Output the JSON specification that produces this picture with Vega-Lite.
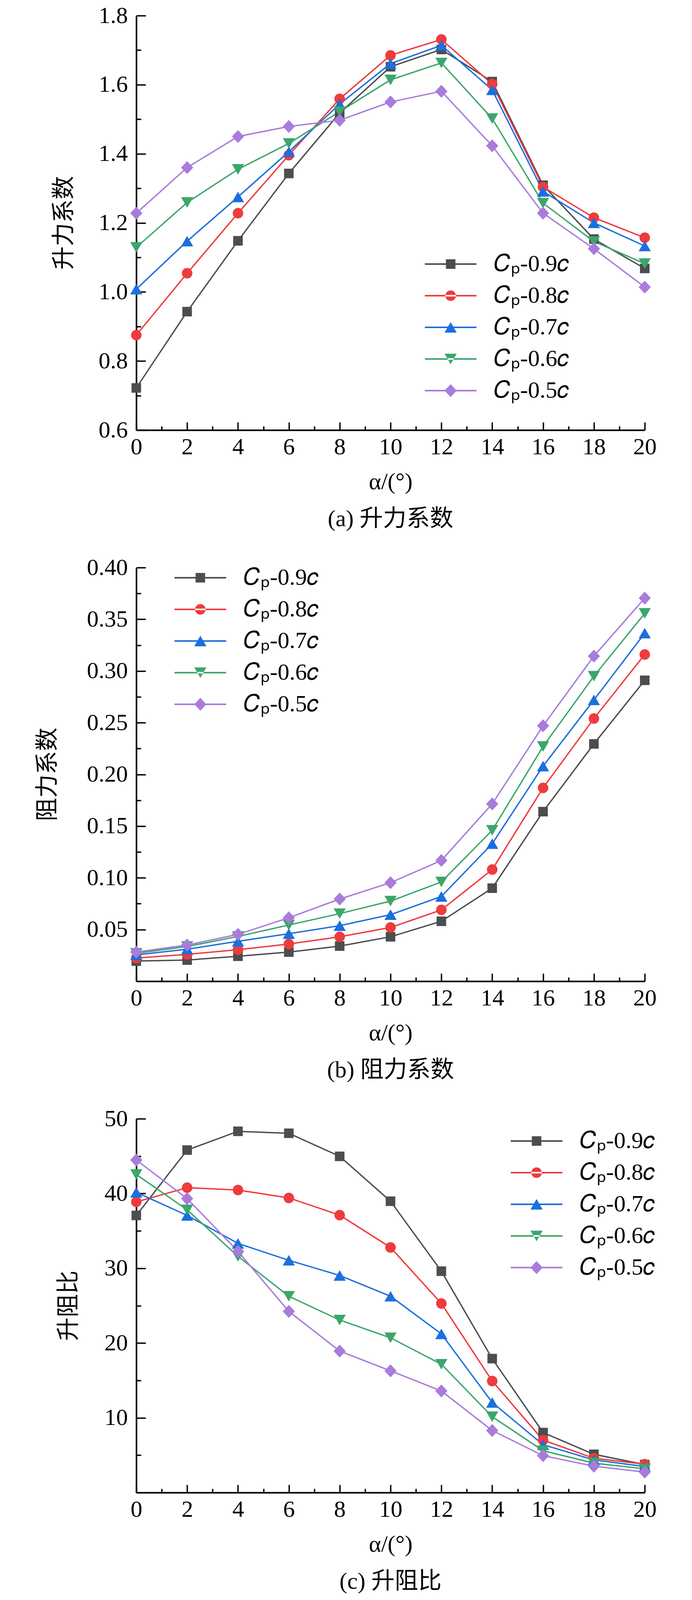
{
  "$schema": "https://vega.github.io/schema/vega-lite/v6.json",
  "background": "white",
  "padding": {"left": 92, "top": 10, "right": 89, "bottom": 0},
  "spacing": 64,
  "resolve": {
    "scale": {"fill": "independent", "shape": "independent"},
    "legend": {"fill": "independent", "shape": "independent"}
  },
  "datasets": {
    "lift": [
      {"alpha": 0, "series": "Cp-0.9c", "value": 0.722}, {"alpha": 2, "series": "Cp-0.9c", "value": 0.943}, {"alpha": 4, "series": "Cp-0.9c", "value": 1.148}, {"alpha": 6, "series": "Cp-0.9c", "value": 1.343}, {"alpha": 8, "series": "Cp-0.9c", "value": 1.518}, {"alpha": 10, "series": "Cp-0.9c", "value": 1.652}, {"alpha": 12, "series": "Cp-0.9c", "value": 1.702}, {"alpha": 14, "series": "Cp-0.9c", "value": 1.609}, {"alpha": 16, "series": "Cp-0.9c", "value": 1.309}, {"alpha": 18, "series": "Cp-0.9c", "value": 1.153}, {"alpha": 20, "series": "Cp-0.9c", "value": 1.068},
      {"alpha": 0, "series": "Cp-0.8c", "value": 0.875}, {"alpha": 2, "series": "Cp-0.8c", "value": 1.054}, {"alpha": 4, "series": "Cp-0.8c", "value": 1.228}, {"alpha": 6, "series": "Cp-0.8c", "value": 1.396}, {"alpha": 8, "series": "Cp-0.8c", "value": 1.559}, {"alpha": 10, "series": "Cp-0.8c", "value": 1.685}, {"alpha": 12, "series": "Cp-0.8c", "value": 1.731}, {"alpha": 14, "series": "Cp-0.8c", "value": 1.602}, {"alpha": 16, "series": "Cp-0.8c", "value": 1.304}, {"alpha": 18, "series": "Cp-0.8c", "value": 1.215}, {"alpha": 20, "series": "Cp-0.8c", "value": 1.157},
      {"alpha": 0, "series": "Cp-0.7c", "value": 1.008}, {"alpha": 2, "series": "Cp-0.7c", "value": 1.147}, {"alpha": 4, "series": "Cp-0.7c", "value": 1.275}, {"alpha": 6, "series": "Cp-0.7c", "value": 1.406}, {"alpha": 8, "series": "Cp-0.7c", "value": 1.544}, {"alpha": 10, "series": "Cp-0.7c", "value": 1.661}, {"alpha": 12, "series": "Cp-0.7c", "value": 1.714}, {"alpha": 14, "series": "Cp-0.7c", "value": 1.585}, {"alpha": 16, "series": "Cp-0.7c", "value": 1.291}, {"alpha": 18, "series": "Cp-0.7c", "value": 1.2}, {"alpha": 20, "series": "Cp-0.7c", "value": 1.133},
      {"alpha": 0, "series": "Cp-0.6c", "value": 1.129}, {"alpha": 2, "series": "Cp-0.6c", "value": 1.259}, {"alpha": 4, "series": "Cp-0.6c", "value": 1.355}, {"alpha": 6, "series": "Cp-0.6c", "value": 1.43}, {"alpha": 8, "series": "Cp-0.6c", "value": 1.522}, {"alpha": 10, "series": "Cp-0.6c", "value": 1.614}, {"alpha": 12, "series": "Cp-0.6c", "value": 1.663}, {"alpha": 14, "series": "Cp-0.6c", "value": 1.502}, {"alpha": 16, "series": "Cp-0.6c", "value": 1.257}, {"alpha": 18, "series": "Cp-0.6c", "value": 1.146}, {"alpha": 20, "series": "Cp-0.6c", "value": 1.082},
      {"alpha": 0, "series": "Cp-0.5c", "value": 1.228}, {"alpha": 2, "series": "Cp-0.5c", "value": 1.36}, {"alpha": 4, "series": "Cp-0.5c", "value": 1.45}, {"alpha": 6, "series": "Cp-0.5c", "value": 1.479}, {"alpha": 8, "series": "Cp-0.5c", "value": 1.497}, {"alpha": 10, "series": "Cp-0.5c", "value": 1.55}, {"alpha": 12, "series": "Cp-0.5c", "value": 1.581}, {"alpha": 14, "series": "Cp-0.5c", "value": 1.423}, {"alpha": 16, "series": "Cp-0.5c", "value": 1.228}, {"alpha": 18, "series": "Cp-0.5c", "value": 1.125}, {"alpha": 20, "series": "Cp-0.5c", "value": 1.014}
    ],
    "drag": [
      {"alpha": 0, "series": "Cp-0.9c", "value": 0.0195}, {"alpha": 2, "series": "Cp-0.9c", "value": 0.0205}, {"alpha": 4, "series": "Cp-0.9c", "value": 0.0242}, {"alpha": 6, "series": "Cp-0.9c", "value": 0.0282}, {"alpha": 8, "series": "Cp-0.9c", "value": 0.034}, {"alpha": 10, "series": "Cp-0.9c", "value": 0.043}, {"alpha": 12, "series": "Cp-0.9c", "value": 0.058}, {"alpha": 14, "series": "Cp-0.9c", "value": 0.09}, {"alpha": 16, "series": "Cp-0.9c", "value": 0.164}, {"alpha": 18, "series": "Cp-0.9c", "value": 0.2295}, {"alpha": 20, "series": "Cp-0.9c", "value": 0.291},
      {"alpha": 0, "series": "Cp-0.8c", "value": 0.0225}, {"alpha": 2, "series": "Cp-0.8c", "value": 0.026}, {"alpha": 4, "series": "Cp-0.8c", "value": 0.0305}, {"alpha": 6, "series": "Cp-0.8c", "value": 0.036}, {"alpha": 8, "series": "Cp-0.8c", "value": 0.043}, {"alpha": 10, "series": "Cp-0.8c", "value": 0.052}, {"alpha": 12, "series": "Cp-0.8c", "value": 0.069}, {"alpha": 14, "series": "Cp-0.8c", "value": 0.108}, {"alpha": 16, "series": "Cp-0.8c", "value": 0.187}, {"alpha": 18, "series": "Cp-0.8c", "value": 0.254}, {"alpha": 20, "series": "Cp-0.8c", "value": 0.316},
      {"alpha": 0, "series": "Cp-0.7c", "value": 0.0255}, {"alpha": 2, "series": "Cp-0.7c", "value": 0.031}, {"alpha": 4, "series": "Cp-0.7c", "value": 0.0386}, {"alpha": 6, "series": "Cp-0.7c", "value": 0.046}, {"alpha": 8, "series": "Cp-0.7c", "value": 0.0537}, {"alpha": 10, "series": "Cp-0.7c", "value": 0.0644}, {"alpha": 12, "series": "Cp-0.7c", "value": 0.082}, {"alpha": 14, "series": "Cp-0.7c", "value": 0.133}, {"alpha": 16, "series": "Cp-0.7c", "value": 0.208}, {"alpha": 18, "series": "Cp-0.7c", "value": 0.272}, {"alpha": 20, "series": "Cp-0.7c", "value": 0.3366},
      {"alpha": 0, "series": "Cp-0.6c", "value": 0.027}, {"alpha": 2, "series": "Cp-0.6c", "value": 0.0336}, {"alpha": 4, "series": "Cp-0.6c", "value": 0.0433}, {"alpha": 6, "series": "Cp-0.6c", "value": 0.0544}, {"alpha": 8, "series": "Cp-0.6c", "value": 0.0654}, {"alpha": 10, "series": "Cp-0.6c", "value": 0.0775}, {"alpha": 12, "series": "Cp-0.6c", "value": 0.096}, {"alpha": 14, "series": "Cp-0.6c", "value": 0.146}, {"alpha": 16, "series": "Cp-0.6c", "value": 0.227}, {"alpha": 18, "series": "Cp-0.6c", "value": 0.295}, {"alpha": 20, "series": "Cp-0.6c", "value": 0.3557},
      {"alpha": 0, "series": "Cp-0.5c", "value": 0.0282}, {"alpha": 2, "series": "Cp-0.5c", "value": 0.035}, {"alpha": 4, "series": "Cp-0.5c", "value": 0.0453}, {"alpha": 6, "series": "Cp-0.5c", "value": 0.0614}, {"alpha": 8, "series": "Cp-0.5c", "value": 0.0795}, {"alpha": 10, "series": "Cp-0.5c", "value": 0.0953}, {"alpha": 12, "series": "Cp-0.5c", "value": 0.1168}, {"alpha": 14, "series": "Cp-0.5c", "value": 0.1715}, {"alpha": 16, "series": "Cp-0.5c", "value": 0.247}, {"alpha": 18, "series": "Cp-0.5c", "value": 0.3144}, {"alpha": 20, "series": "Cp-0.5c", "value": 0.3705}
    ],
    "ratio": [
      {"alpha": 0, "series": "Cp-0.9c", "value": 37.07}, {"alpha": 2, "series": "Cp-0.9c", "value": 45.81}, {"alpha": 4, "series": "Cp-0.9c", "value": 48.32}, {"alpha": 6, "series": "Cp-0.9c", "value": 48.06}, {"alpha": 8, "series": "Cp-0.9c", "value": 44.97}, {"alpha": 10, "series": "Cp-0.9c", "value": 38.97}, {"alpha": 12, "series": "Cp-0.9c", "value": 29.61}, {"alpha": 14, "series": "Cp-0.9c", "value": 17.92}, {"alpha": 16, "series": "Cp-0.9c", "value": 8.03}, {"alpha": 18, "series": "Cp-0.9c", "value": 5.12}, {"alpha": 20, "series": "Cp-0.9c", "value": 3.75},
      {"alpha": 0, "series": "Cp-0.8c", "value": 38.88}, {"alpha": 2, "series": "Cp-0.8c", "value": 40.78}, {"alpha": 4, "series": "Cp-0.8c", "value": 40.47}, {"alpha": 6, "series": "Cp-0.8c", "value": 39.41}, {"alpha": 8, "series": "Cp-0.8c", "value": 37.11}, {"alpha": 10, "series": "Cp-0.8c", "value": 32.79}, {"alpha": 12, "series": "Cp-0.8c", "value": 25.29}, {"alpha": 14, "series": "Cp-0.8c", "value": 14.92}, {"alpha": 16, "series": "Cp-0.8c", "value": 7.02}, {"alpha": 18, "series": "Cp-0.8c", "value": 4.59}, {"alpha": 20, "series": "Cp-0.8c", "value": 3.8},
      {"alpha": 0, "series": "Cp-0.7c", "value": 40.16}, {"alpha": 2, "series": "Cp-0.7c", "value": 37.07}, {"alpha": 4, "series": "Cp-0.7c", "value": 33.32}, {"alpha": 6, "series": "Cp-0.7c", "value": 31.07}, {"alpha": 8, "series": "Cp-0.7c", "value": 29.04}, {"alpha": 10, "series": "Cp-0.7c", "value": 26.26}, {"alpha": 12, "series": "Cp-0.7c", "value": 21.23}, {"alpha": 14, "series": "Cp-0.7c", "value": 12.05}, {"alpha": 16, "series": "Cp-0.7c", "value": 6.4}, {"alpha": 18, "series": "Cp-0.7c", "value": 4.37}, {"alpha": 20, "series": "Cp-0.7c", "value": 3.49},
      {"alpha": 0, "series": "Cp-0.6c", "value": 42.54}, {"alpha": 2, "series": "Cp-0.6c", "value": 37.82}, {"alpha": 4, "series": "Cp-0.6c", "value": 31.6}, {"alpha": 6, "series": "Cp-0.6c", "value": 26.26}, {"alpha": 8, "series": "Cp-0.6c", "value": 23.08}, {"alpha": 10, "series": "Cp-0.6c", "value": 20.7}, {"alpha": 12, "series": "Cp-0.6c", "value": 17.17}, {"alpha": 14, "series": "Cp-0.6c", "value": 10.15}, {"alpha": 16, "series": "Cp-0.6c", "value": 5.6}, {"alpha": 18, "series": "Cp-0.6c", "value": 3.93}, {"alpha": 20, "series": "Cp-0.6c", "value": 3.18},
      {"alpha": 0, "series": "Cp-0.5c", "value": 44.48}, {"alpha": 2, "series": "Cp-0.5c", "value": 39.32}, {"alpha": 4, "series": "Cp-0.5c", "value": 32.26}, {"alpha": 6, "series": "Cp-0.5c", "value": 24.23}, {"alpha": 8, "series": "Cp-0.5c", "value": 18.93}, {"alpha": 10, "series": "Cp-0.5c", "value": 16.28}, {"alpha": 12, "series": "Cp-0.5c", "value": 13.59}, {"alpha": 14, "series": "Cp-0.5c", "value": 8.3}, {"alpha": 16, "series": "Cp-0.5c", "value": 4.94}, {"alpha": 18, "series": "Cp-0.5c", "value": 3.53}, {"alpha": 20, "series": "Cp-0.5c", "value": 2.74}
    ]
  },
  "config": {
    "view": {"stroke": null},
    "font": "Liberation Serif, Noto Sans CJK SC",
    "axis": {
      "grid": false,
      "domainColor": "black",
      "domainWidth": 4,
      "tickColor": "black",
      "tickWidth": 3.5,
      "labelFont": "Liberation Serif",
      "labelFontSize": 60,
      "labelColor": "black",
      "labelOverlap": false,
      "labelFlush": false,
      "labelBound": false,
      "titleFont": "Liberation Serif, Noto Sans CJK SC",
      "titleFontSize": 60,
      "titleFontWeight": "normal",
      "titleColor": "black",
      "titleBaseline": "middle",
      "titleAlign": "center"
    },
    "legend": {
      "title": null,
      "orient": "none",
      "labelFont": "Liberation Serif",
      "labelFontSize": 60,
      "labelColor": "black",
      "labelLimit": 600,
      "symbolSize": 600,
      "symbolOpacity": 1,
      "symbolStrokeWidth": 0,
      "labelOffset": 81,
      "rowPadding": 21
    },
    "title": {
      "font": "Liberation Serif, Noto Sans CJK SC",
      "fontSize": 60,
      "fontWeight": "normal",
      "color": "black",
      "orient": "bottom",
      "offset": 37
    },
    "line": {"strokeWidth": 3.5},
    "point": {"filled": true, "size": 600, "opacity": 1}
  },
  "vconcat": [
    {
      "width": 1302,
      "height": 1061,
      "data": {"name": "lift"},
      "title": "(a) 升力系数",
      "resolve": {"axis": {"x": "independent", "y": "independent"}},
      "encoding": {
        "x": {"field": "alpha", "type": "quantitative", "scale": {"domain": [0, 20], "nice": false}, "axis": null},
        "y": {"field": "value", "type": "quantitative", "scale": {"domain": [0.6, 1.8], "nice": false, "zero": false}, "axis": null},
        "color": {"field": "series", "type": "nominal", "legend": null,
          "scale": {"range": ["#a97bdb", "#3ca66b", "#1b6fdf", "#ee3b3d", "#4d4d4d"]}}
      },
      "layer": [
        {
          "mark": {"type": "line"},
          "encoding": {
            "x": {"field": "alpha", "type": "quantitative",
              "axis": {"orient": "bottom", "title": "α/(°)", "titleX": 651, "titleY": 132,
                "values": [0, 2, 4, 6, 8, 10, 12, 14, 16, 18, 20], "tickSize": -20, "labelPadding": 34}},
            "y": {"field": "value", "type": "quantitative",
              "axis": {"orient": "left", "title": "升力系数", "titleX": -185, "titleY": 530,
                "values": [0.6, 0.8, 1.0, 1.2, 1.4, 1.6, 1.8], "format": ".1f", "tickSize": -24, "labelPadding": 46}}
          }
        },
        {
          "transform": [{"filter": "datum.series === 'Cp-0.9c'"}],
          "mark": {"type": "point", "shape": "M-1,-1H1V1H-1Z"},
          "encoding": {
            "x": {"field": "alpha", "type": "quantitative",
              "axis": {"orient": "bottom", "title": null, "domain": false, "labels": false,
                "values": [1, 3, 5, 7, 9, 11, 13, 15, 17, 19], "tickSize": -10}},
            "y": {"field": "value", "type": "quantitative",
              "axis": {"orient": "left", "title": null, "domain": false, "labels": false,
                "values": [0.7, 0.9, 1.1, 1.3, 1.5, 1.7], "tickSize": -12}}
          }
        },
        {"transform": [{"filter": "datum.series === 'Cp-0.8c'"}], "mark": {"type": "point", "shape": "M-1.1,0A1.1,1.1 0 1,0 1.1,0A1.1,1.1 0 1,0 -1.1,0Z"}},
        {"transform": [{"filter": "datum.series === 'Cp-0.7c'"}], "mark": {"type": "point", "shape": "M0,-1.1L1.27,1.1H-1.27Z"}},
        {"transform": [{"filter": "datum.series === 'Cp-0.6c'"}], "mark": {"type": "point", "shape": "M0,1.1L1.27,-1.1H-1.27Z"}},
        {"transform": [{"filter": "datum.series === 'Cp-0.5c'"}], "mark": {"type": "point", "shape": "M0,-1.35L1.27,0L0,1.35L-1.27,0Z"}},
        {
          "mark": {"type": "point", "opacity": 0},
          "encoding": {
            "fill": {"field": "series", "type": "nominal",
              "scale": {"domain": ["Cp-0.9c", "Cp-0.8c", "Cp-0.7c", "Cp-0.6c", "Cp-0.5c"], "range": ["#4d4d4d", "#ee3b3d", "#1b6fdf", "#3ca66b", "#a97bdb"]},
              "legend": {"legendX": 775, "legendY": 606, "labelExpr": "'𝐶ₚ' + slice(datum.label, 2, -1) + '𝑐'"}},
            "shape": {"field": "series", "type": "nominal",
              "scale": {"domain": ["Cp-0.9c", "Cp-0.8c", "Cp-0.7c", "Cp-0.6c", "Cp-0.5c"], "range": [
                "M-5.4,-0.16H5.4V0.16H-5.4Z M-1,-1H1V1H-1Z",
                "M-5.4,-0.16H5.4V0.16H-5.4Z M-1.1,0A1.1,1.1 0 1,0 1.1,0A1.1,1.1 0 1,0 -1.1,0Z",
                "M-5.4,-0.16H5.4V0.16H-5.4Z M0,-1.1L1.27,1.1H-1.27Z",
                "M-5.4,-0.16H5.4V0.16H-5.4Z M0,1.1L1.27,-1.1H-1.27Z",
                "M-5.4,-0.16H5.4V0.16H-5.4Z M0,-1.35L1.27,0L0,1.35L-1.27,0Z"]},
              "legend": {"legendX": 775, "legendY": 606, "labelExpr": "'𝐶ₚ' + slice(datum.label, 2, -1) + '𝑐'"}}
          }
        }
      ]
    },
    {
      "width": 1302,
      "height": 1059,
      "data": {"name": "drag"},
      "title": "(b) 阻力系数",
      "resolve": {"axis": {"x": "independent", "y": "independent"}},
      "encoding": {
        "x": {"field": "alpha", "type": "quantitative", "scale": {"domain": [0, 20], "nice": false}, "axis": null},
        "y": {"field": "value", "type": "quantitative", "scale": {"domain": [0, 0.4], "nice": false}, "axis": null},
        "color": {"field": "series", "type": "nominal", "legend": null,
          "scale": {"range": ["#a97bdb", "#3ca66b", "#1b6fdf", "#ee3b3d", "#4d4d4d"]}}
      },
      "layer": [
        {
          "mark": {"type": "line"},
          "encoding": {
            "x": {"field": "alpha", "type": "quantitative",
              "axis": {"orient": "bottom", "title": "α/(°)", "titleX": 651, "titleY": 132,
                "values": [0, 2, 4, 6, 8, 10, 12, 14, 16, 18, 20], "tickSize": -20, "labelPadding": 34}},
            "y": {"field": "value", "type": "quantitative",
              "axis": {"orient": "left", "title": "阻力系数", "titleX": -227, "titleY": 529,
                "values": [0.05, 0.1, 0.15, 0.2, 0.25, 0.3, 0.35, 0.4], "format": ".2f", "tickSize": -24, "labelPadding": 46}}
          }
        },
        {
          "transform": [{"filter": "datum.series === 'Cp-0.9c'"}],
          "mark": {"type": "point", "shape": "M-1,-1H1V1H-1Z"},
          "encoding": {
            "x": {"field": "alpha", "type": "quantitative",
              "axis": {"orient": "bottom", "title": null, "domain": false, "labels": false,
                "values": [1, 3, 5, 7, 9, 11, 13, 15, 17, 19], "tickSize": -10}},
            "y": {"field": "value", "type": "quantitative",
              "axis": {"orient": "left", "title": null, "domain": false, "labels": false,
                "values": [0.025, 0.075, 0.125, 0.175, 0.225, 0.275, 0.325, 0.375], "tickSize": -12}}
          }
        },
        {"transform": [{"filter": "datum.series === 'Cp-0.8c'"}], "mark": {"type": "point", "shape": "M-1.1,0A1.1,1.1 0 1,0 1.1,0A1.1,1.1 0 1,0 -1.1,0Z"}},
        {"transform": [{"filter": "datum.series === 'Cp-0.7c'"}], "mark": {"type": "point", "shape": "M0,-1.1L1.27,1.1H-1.27Z"}},
        {"transform": [{"filter": "datum.series === 'Cp-0.6c'"}], "mark": {"type": "point", "shape": "M0,1.1L1.27,-1.1H-1.27Z"}},
        {"transform": [{"filter": "datum.series === 'Cp-0.5c'"}], "mark": {"type": "point", "shape": "M0,-1.35L1.27,0L0,1.35L-1.27,0Z"}},
        {
          "mark": {"type": "point", "opacity": 0},
          "encoding": {
            "fill": {"field": "series", "type": "nominal",
              "scale": {"domain": ["Cp-0.9c", "Cp-0.8c", "Cp-0.7c", "Cp-0.6c", "Cp-0.5c"], "range": ["#4d4d4d", "#ee3b3d", "#1b6fdf", "#3ca66b", "#a97bdb"]},
              "legend": {"legendX": 134, "legendY": -4, "labelExpr": "'𝐶ₚ' + slice(datum.label, 2, -1) + '𝑐'"}},
            "shape": {"field": "series", "type": "nominal",
              "scale": {"domain": ["Cp-0.9c", "Cp-0.8c", "Cp-0.7c", "Cp-0.6c", "Cp-0.5c"], "range": [
                "M-5.4,-0.16H5.4V0.16H-5.4Z M-1,-1H1V1H-1Z",
                "M-5.4,-0.16H5.4V0.16H-5.4Z M-1.1,0A1.1,1.1 0 1,0 1.1,0A1.1,1.1 0 1,0 -1.1,0Z",
                "M-5.4,-0.16H5.4V0.16H-5.4Z M0,-1.1L1.27,1.1H-1.27Z",
                "M-5.4,-0.16H5.4V0.16H-5.4Z M0,1.1L1.27,-1.1H-1.27Z",
                "M-5.4,-0.16H5.4V0.16H-5.4Z M0,-1.35L1.27,0L0,1.35L-1.27,0Z"]},
              "legend": {"legendX": 134, "legendY": -4, "labelExpr": "'𝐶ₚ' + slice(datum.label, 2, -1) + '𝑐'"}}
          }
        }
      ]
    },
    {
      "width": 1302,
      "height": 957,
      "data": {"name": "ratio"},
      "title": "(c) 升阻比",
      "resolve": {"axis": {"x": "independent", "y": "independent"}},
      "encoding": {
        "x": {"field": "alpha", "type": "quantitative", "scale": {"domain": [0, 20], "nice": false}, "axis": null},
        "y": {"field": "value", "type": "quantitative", "scale": {"domain": [0, 50], "nice": false}, "axis": null},
        "color": {"field": "series", "type": "nominal", "legend": null,
          "scale": {"range": ["#a97bdb", "#3ca66b", "#1b6fdf", "#ee3b3d", "#4d4d4d"]}}
      },
      "layer": [
        {
          "mark": {"type": "line"},
          "encoding": {
            "x": {"field": "alpha", "type": "quantitative",
              "axis": {"orient": "bottom", "title": "α/(°)", "titleX": 651, "titleY": 132,
                "values": [0, 2, 4, 6, 8, 10, 12, 14, 16, 18, 20], "tickSize": -20, "labelPadding": 34}},
            "y": {"field": "value", "type": "quantitative",
              "axis": {"orient": "left", "title": "升阻比", "titleX": -173, "titleY": 478,
                "values": [10, 20, 30, 40, 50], "tickSize": -24, "labelPadding": 46}}
          }
        },
        {
          "transform": [{"filter": "datum.series === 'Cp-0.9c'"}],
          "mark": {"type": "point", "shape": "M-1,-1H1V1H-1Z"},
          "encoding": {
            "x": {"field": "alpha", "type": "quantitative",
              "axis": {"orient": "bottom", "title": null, "domain": false, "labels": false,
                "values": [1, 3, 5, 7, 9, 11, 13, 15, 17, 19], "tickSize": -10}},
            "y": {"field": "value", "type": "quantitative",
              "axis": {"orient": "left", "title": null, "domain": false, "labels": false,
                "values": [5, 15, 25, 35, 45], "tickSize": -12}}
          }
        },
        {"transform": [{"filter": "datum.series === 'Cp-0.8c'"}], "mark": {"type": "point", "shape": "M-1.1,0A1.1,1.1 0 1,0 1.1,0A1.1,1.1 0 1,0 -1.1,0Z"}},
        {"transform": [{"filter": "datum.series === 'Cp-0.7c'"}], "mark": {"type": "point", "shape": "M0,-1.1L1.27,1.1H-1.27Z"}},
        {"transform": [{"filter": "datum.series === 'Cp-0.6c'"}], "mark": {"type": "point", "shape": "M0,1.1L1.27,-1.1H-1.27Z"}},
        {"transform": [{"filter": "datum.series === 'Cp-0.5c'"}], "mark": {"type": "point", "shape": "M0,-1.35L1.27,0L0,1.35L-1.27,0Z"}},
        {
          "mark": {"type": "point", "opacity": 0},
          "encoding": {
            "fill": {"field": "series", "type": "nominal",
              "scale": {"domain": ["Cp-0.9c", "Cp-0.8c", "Cp-0.7c", "Cp-0.6c", "Cp-0.5c"], "range": ["#4d4d4d", "#ee3b3d", "#1b6fdf", "#3ca66b", "#a97bdb"]},
              "legend": {"legendX": 995, "legendY": 27, "labelExpr": "'𝐶ₚ' + slice(datum.label, 2, -1) + '𝑐'"}},
            "shape": {"field": "series", "type": "nominal",
              "scale": {"domain": ["Cp-0.9c", "Cp-0.8c", "Cp-0.7c", "Cp-0.6c", "Cp-0.5c"], "range": [
                "M-5.4,-0.16H5.4V0.16H-5.4Z M-1,-1H1V1H-1Z",
                "M-5.4,-0.16H5.4V0.16H-5.4Z M-1.1,0A1.1,1.1 0 1,0 1.1,0A1.1,1.1 0 1,0 -1.1,0Z",
                "M-5.4,-0.16H5.4V0.16H-5.4Z M0,-1.1L1.27,1.1H-1.27Z",
                "M-5.4,-0.16H5.4V0.16H-5.4Z M0,1.1L1.27,-1.1H-1.27Z",
                "M-5.4,-0.16H5.4V0.16H-5.4Z M0,-1.35L1.27,0L0,1.35L-1.27,0Z"]},
              "legend": {"legendX": 995, "legendY": 27, "labelExpr": "'𝐶ₚ' + slice(datum.label, 2, -1) + '𝑐'"}}
          }
        }
      ]
    }
  ]
}
